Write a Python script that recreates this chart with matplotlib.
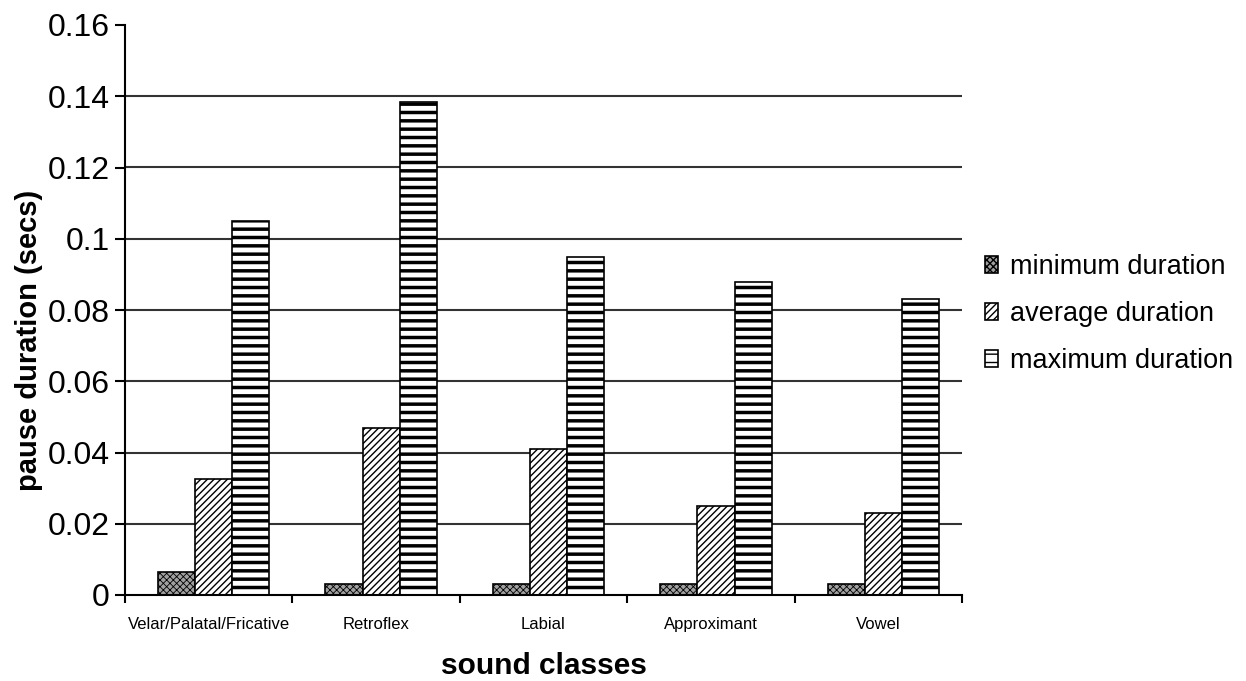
import numpy as np
import matplotlib.pyplot as plt

plt.rcParams['font.family'] = ['Liberation Sans', 'DejaVu Sans']
plt.rcParams['hatch.linewidth'] = 1.0

clases = ['Velar/Palatal/Fricative', 'Retroflex', 'Labial', 'Approximant', 'Vowel']
duracion_min = [0.0065, 0.003, 0.003, 0.003, 0.003]
duracion_media = [0.0326, 0.047, 0.041, 0.025, 0.023]
duracion_max = [0.105, 0.1385, 0.095, 0.088, 0.083]
series = ['minimum duration', 'average duration', 'maximum duration']

fig = plt.figure(figsize=(12.46, 6.81), dpi=100)
ax = fig.add_axes([125 / 1246, 86 / 681, 837 / 1246, 570 / 681])

x = np.arange(len(clases))
ancho = 0.222
desp = 0.03

# lineas horizontales de la rejilla (sin la de arriba)
for y in np.arange(0.02, 0.141, 0.02):
    ax.axhline(y, color='#333333', lw=1.5, zorder=0)

b1 = ax.bar(x - ancho + desp, duracion_min, ancho, facecolor='#a0a0a0',
            edgecolor='black', hatch='xxxxx', lw=1.2, label=series[0], zorder=2)
b2 = ax.bar(x + desp, duracion_media, ancho, facecolor='white',
            edgecolor='black', hatch='/////', lw=1.2, label=series[1], zorder=2)
b3 = ax.bar(x + ancho + desp, duracion_max, ancho, facecolor='white',
            edgecolor='black', hatch='--', lw=1.2, label=series[2], zorder=2)
for b in b1:
    b.set_hatch_linewidth(0.6)
for b in b3:
    b.set_hatch_linewidth(2.5)

ax.set_xlim(-0.5, len(clases) - 0.5)
ax.set_ylim(0, 0.16)
yt = np.arange(0, 0.161, 0.02)
ax.set_yticks(yt)
ax.set_yticklabels(['%g' % round(v, 2) for v in yt], fontsize=23)
ax.set_xticks(np.arange(-0.5, len(clases)), minor=False)
ax.set_xticklabels([])
ax.set_xticks(x, minor=True)
ax.set_xticklabels(clases, minor=True, fontsize=12)
ax.tick_params(axis='x', which='minor', length=0, pad=16)
ax.tick_params(axis='x', which='major', length=6, width=1.5, direction='out')
ax.tick_params(axis='y', length=7, width=1.5, direction='out', pad=4)

for s in ['top', 'right']:
    ax.spines[s].set_visible(False)
ax.spines['left'].set_linewidth(1.5)
ax.spines['bottom'].set_linewidth(1.5)

ax.set_ylabel('pause duration (secs)', fontsize=21, fontweight='bold')
ax.yaxis.set_label_coords(-0.098, 0.446)
ax.set_xlabel('sound classes', fontsize=21.5, fontweight='bold', labelpad=14)

ax.legend(handles=[b1, b2, b3], loc='center left', bbox_to_anchor=(1.014, 0.493),
          borderaxespad=0, frameon=False, fontsize=19.5, handlelength=0.5,
          handleheight=0.6, handletextpad=0.45, labelspacing=0.78)

fig.savefig('out.png', dpi=100)
